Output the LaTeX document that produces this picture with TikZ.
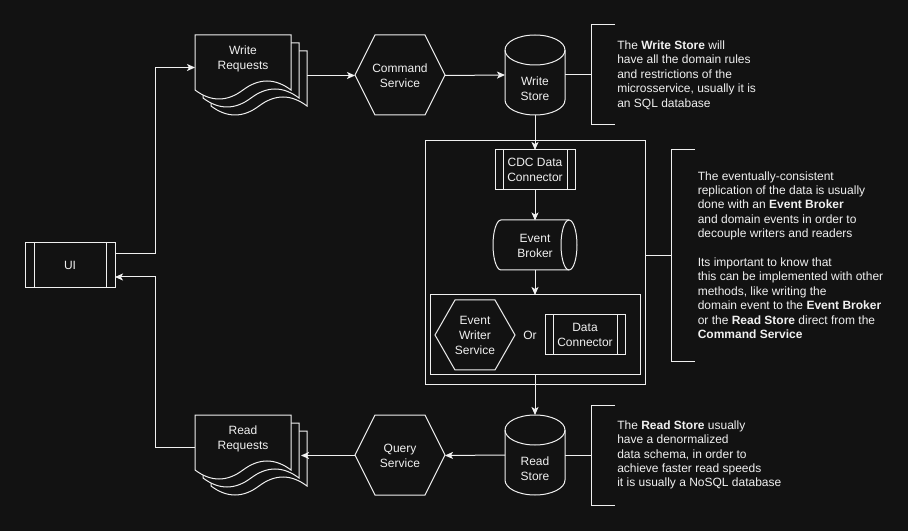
\documentclass[tikz,border=0pt]{standalone}
\usepackage{fontspec}
\setmainfont{Liberation Sans}
\usetikzlibrary{calc,arrows.meta}
\definecolor{bg}{HTML}{121212}
\definecolor{fg}{HTML}{F0F0F0}
\newcommand\mydocpage[2]{\draw[shp,shift={(#1,#2)}] (0,0) -- (96,0) -- (96,55) .. controls (80,43) and (64,43) .. (48,55) .. controls (32,67) and (16,67) .. (0,55) -- cycle;}
\newcommand\mycyl[2]{\draw[shp,shift={(#1-30,#2-40)}] (0,15) .. controls (0,6.72) and (13.43,0) .. (30,0) .. controls (46.57,0) and (60,6.72) .. (60,15) -- (60,65) .. controls (60,73.28) and (46.57,80) .. (30,80) .. controls (13.43,80) and (0,73.28) .. (0,65) -- cycle;
  \draw[ln,shift={(#1-30,#2-40)}] (0,15) .. controls (0,23.28) and (13.43,30) .. (30,30) .. controls (46.57,30) and (60,23.28) .. (60,15);}
\newcommand\myhcyl[2]{\draw[shp,shift={(#1-42,#2-25)}] (76,0) .. controls (80.42,0) and (84,11.19) .. (84,25) .. controls (84,38.81) and (80.42,50) .. (76,50) -- (8,50) .. controls (3.58,50) and (0,38.81) .. (0,25) .. controls (0,11.19) and (3.58,0) .. (8,0) -- cycle;
  \draw[ln,shift={(#1-42,#2-25)}] (76,0) .. controls (71.58,0) and (68,11.19) .. (68,25) .. controls (68,38.81) and (71.58,50) .. (76,50);}
\newcommand\myhex[4]{\draw[shp,shift={(#1,#2)}] (-#3/2,0) -- (-#3/2+20,-#4/2) -- (#3/2-20,-#4/2) -- (#3/2,0) -- (#3/2-20,#4/2) -- (-#3/2+20,#4/2) -- cycle;}
\newcommand\myinner[2]{\draw[ln] ($(#1.north west)+(#2,0)$) -- ($(#1.south west)+(#2,0)$);
  \draw[ln] ($(#1.north east)+(-#2,0)$) -- ($(#1.south east)+(-#2,0)$);}
\begin{document}
\begin{tikzpicture}[x=0.75pt,y=-0.75pt,
  ln/.style={draw=fg,line width=0.75pt},
  shp/.style={draw=fg,fill=bg,line width=0.75pt},
  arr/.style={draw=fg,line width=0.75pt,-{Stealth[length=6pt,width=5.25pt,inset=1.5pt]}},
  sz/.style 2 args={minimum width=#1*0.75pt,minimum height=#2*0.75pt},
  bbox/.style={inner sep=0pt,outer sep=0pt,draw=none},
  lbl/.style={text=fg,font=\fontsize{9}{11.25}\selectfont,align=center,inner sep=0pt},
  note/.style={text=fg,font=\fontsize{9}{10.8}\selectfont,align=left,inner sep=0pt,anchor=west}]
\fill[bg] (0,0) rectangle (908,531);
% container
\node[bbox,shp,sz={220}{244}] (cont) at (535,263) {};
\node[bbox,shp,sz={210}{80}] (inner) at (535,335) {};
% UI
\node[bbox,shp,sz={90}{45},lbl] (ui) at (70,265.5) {UI};
\myinner{ui}{9}
% write requests
\node[bbox,sz={112}{81}] (wreq) at (251,75.5) {};
\mydocpage{211}{51}
\mydocpage{203}{43}
\mydocpage{195}{35}
\node[bbox,sz={96}{65}] (wreqf) at (243,67.5) {};
\node[lbl] (wreqt) at (243,59) {Write\\Requests};
% read requests
\node[bbox,sz={112}{81}] (rreq) at (251,455.5) {};
\mydocpage{211}{431}
\mydocpage{203}{423}
\mydocpage{195}{415}
\node[bbox,sz={96}{65}] (rreqf) at (243,447.5) {};
\node[lbl] (rreqt) at (243,439) {Read\\Requests};
% hexagons
\myhex{400}{75}{90}{80}
\node[bbox,sz={90}{80},lbl] (cmd) at (400,75.5) {Command\\Service};
\myhex{400}{455}{90}{80}
\node[bbox,sz={90}{80},lbl] (qs) at (400,455.5) {Query\\Service};
\myhex{475}{335}{80}{70}
\node[bbox,sz={80}{70},lbl] (ews) at (475,335.5) {Event\\Writer\\Service};
% stores
\mycyl{535}{75}
\node[bbox,sz={60}{80}] (ws) at (535,75) {};
\node[lbl] (wst) at (535,89) {Write\\Store};
\mycyl{535}{455}
\node[bbox,sz={60}{80}] (rs) at (535,455) {};
\node[lbl] (rst) at (535,469) {Read\\Store};
% CDC, broker, data connector
\node[bbox,shp,sz={80}{40},lbl] (cdc) at (535,170) {CDC Data\\Connector};
\myinner{cdc}{8}
\myhcyl{535}{245}
\node[bbox,sz={84}{50},lbl] (eb) at (535,245.5) {Event\\Broker};
\node[bbox,shp,sz={80}{40},lbl] (dc) at (585,335) {Data\\Connector};
\myinner{dc}{8}
\node[lbl] (or) at (530,335) {Or};
% connectors
\draw[arr] ($(ui.east)+(0,-11.5)$) -- ++(40,0) |- (wreqf.west);
\draw[arr] (rreqf.west) -- ++(-40,0) |- ($(ui.east)+(0,11.5)$);
\draw[arr] (wreq.east |- cmd.west) -- (cmd.west);
\draw[arr] (cmd.east) -- (ws.west);
\draw[arr] (ws.south) -- (cdc.north);
\draw[arr] (cdc.south) -- (eb.north);
\draw[arr] (eb.south) -- (inner.north);
\draw[arr] (inner.south) -- (rs.north);
\draw[arr] (rs.west) -- (qs.east);
\draw[arr,shorten >=-4.5pt] (qs.west) -- (qs.west -| rreq.east);
% annotations
\node[bbox,sz={24}{100}] (an1) at (603,75) {};
\draw[ln] (an1.north east) -- (an1.north west) -- (an1.south west) -- (an1.south east);
\draw[ln] (ws.east) -- (an1.west);
\node[note] (an1t) at (617,75) {The \textbf{Write Store} will\\have all the domain rules\\and restrictions of the\\microsservice, usually it is\\an SQL database};
\node[bbox,sz={24}{212}] (an2) at (683,256) {};
\draw[ln] (an2.north east) -- (an2.north west) -- (an2.south west) -- (an2.south east);
\draw[ln] (cont.east |- an2.west) -- (an2.west);
\node[note] (an2t) at (697.5,255) {The eventually-consistent\\replication of the data is usually\\done with an \textbf{Event Broker}\\and domain events in order to\\decouple writers and readers\\[10.8pt]Its important to know that\\this can be implemented with other\\methods, like writing the\\domain event to the \textbf{Event Broker}\\or the \textbf{Read Store} direct from the\\\textbf{Command Service}};
\node[bbox,sz={24}{100}] (an3) at (603,455) {};
\draw[ln] (an3.north east) -- (an3.north west) -- (an3.south west) -- (an3.south east);
\draw[ln] (rs.east) -- (an3.west);
\node[note] (an3t) at (617,455) {The \textbf{Read Store} usually\\have a denormalized\\data schema, in order to\\achieve faster read speeds\\it is usually a NoSQL database};
\end{tikzpicture}
\end{document}
